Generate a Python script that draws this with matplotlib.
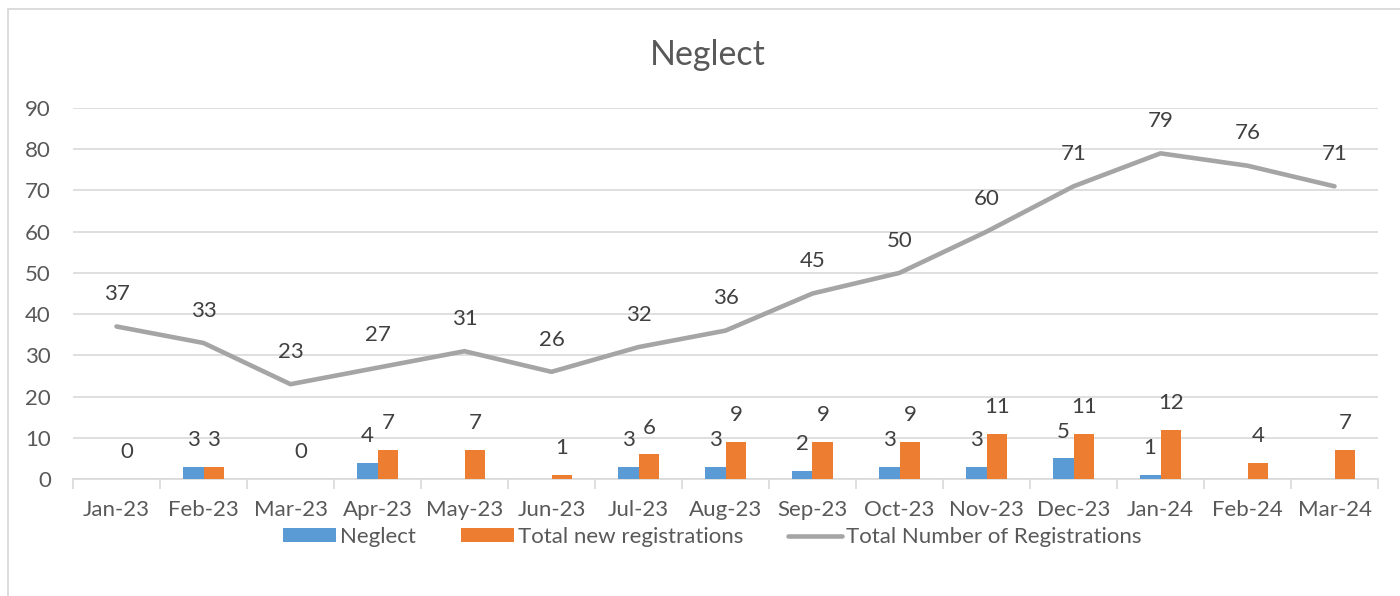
import matplotlib
matplotlib.use("Agg")
import matplotlib.pyplot as plt
from matplotlib.patches import Rectangle
import numpy as np

months = ["Jan-23", "Feb-23", "Mar-23", "Apr-23", "May-23", "Jun-23", "Jul-23",
          "Aug-23", "Sep-23", "Oct-23", "Nov-23", "Dec-23", "Jan-24", "Feb-24", "Mar-24"]
neglect = [None, 3, None, 4, None, None, 3, 3, 2, 3, 3, 5, 1, None, None]
new_regs = [0, 3, 0, 7, 7, 1, 6, 9, 9, 9, 11, 11, 12, 4, 7]
total_regs = [37, 33, 23, 27, 31, 26, 32, 36, 45, 50, 60, 71, 79, 76, 71]

FONT = ["Lato", "DejaVu Sans"]
plt.rcParams["font.family"] = FONT
TXT = "#595959"
LAB = "#404040"
BLUE = "#5b9bd5"
ORANGE = "#ed7d31"
GREY = "#a5a5a5"
GRID = "#d9d9d9"
FS = 16

fig = plt.figure(figsize=(14, 5.96), dpi=100)
fig.patches.append(Rectangle((8 / 1400, -0.1), 1.2, (596 - 9) / 596 + 0.1,
                             transform=fig.transFigure, fill=False,
                             edgecolor="#d9d9d9", linewidth=1.3))

ax = fig.add_axes([73 / 1400, (596 - 479) / 596, (1378 - 73) / 1400, (479 - 108) / 596])
x = np.arange(len(months))
w = 0.24

neg_vals = [np.nan if v is None else v for v in neglect]
b1 = ax.bar(x - w / 2, neg_vals, width=w, color=BLUE, label="Neglect", zorder=3)
b2 = ax.bar(x + w / 2, new_regs, width=w, color=ORANGE, label="Total new registrations", zorder=3)
l1, = ax.plot(x, total_regs, color=GREY, linewidth=3.3, solid_capstyle="round",
              label="Total Number of Registrations", zorder=4)

for i, v in enumerate(neglect):
    if v is not None:
        ax.annotate(str(v), (x[i] - w / 2, v), xytext=(0, 12), textcoords="offset points",
                    ha="center", va="bottom", fontsize=FS, color=LAB, zorder=5)
for i, v in enumerate(new_regs):
    ax.annotate(str(v), (x[i] + w / 2, v), xytext=(0, 12), textcoords="offset points",
                ha="center", va="bottom", fontsize=FS, color=LAB, zorder=5)
for i, v in enumerate(total_regs):
    ax.annotate(str(v), (x[i], v), xytext=(0, 16), textcoords="offset points",
                ha="center", va="bottom", fontsize=FS, color=LAB, zorder=5)

ax.set_xlim(-0.5, len(months) - 0.5)
ax.set_ylim(0, 90)
ax.set_yticks(range(0, 91, 10))
ax.grid(axis="y", color=GRID, linewidth=1.2, zorder=0)
ax.set_axisbelow(True)
for s in ["left", "right", "top"]:
    ax.spines[s].set_visible(False)
ax.spines["bottom"].set_color(GRID)
ax.spines["bottom"].set_linewidth(1.2)
ax.set_xticks(x)
ax.set_xticklabels(months)
ax.set_xticks(np.arange(-0.5, len(months), 1), minor=True)
ax.tick_params(axis="x", which="major", length=0, pad=15, labelsize=FS, labelcolor=TXT)
ax.tick_params(axis="x", which="minor", length=7, color=GRID, width=1.2)
ax.tick_params(axis="y", length=0, pad=16, labelsize=FS, labelcolor=TXT)

fig.text(708 / 1400, 1 - 65 / 596, "Neglect", ha="center", va="baseline",
         fontsize=24.5, color=TXT)

leg = fig.legend([b1, b2, l1], ["Neglect", "Total new registrations", "Total Number of Registrations"],
                 loc="center", bbox_to_anchor=(712 / 1400, 1 - 537 / 596), ncol=3,
                 frameon=False, fontsize=FS, handlelength=2.4, handleheight=0.55,
                 columnspacing=2.0, handletextpad=0.2)
for t in leg.get_texts():
    t.set_color(TXT)

fig.savefig("out.png", dpi=100, facecolor="white")
